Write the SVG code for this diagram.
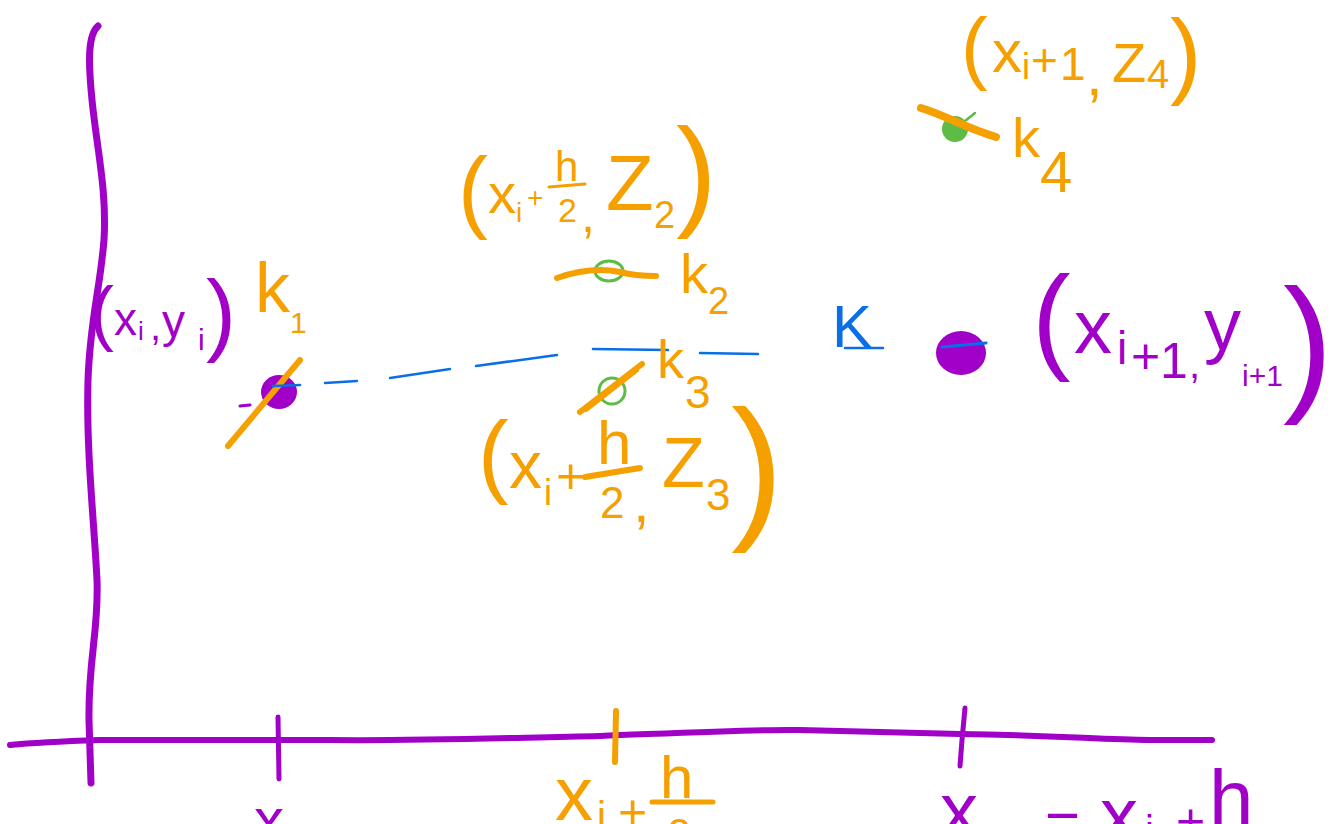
<svg xmlns="http://www.w3.org/2000/svg" width="1334" height="824" viewBox="0 0 1334 824">
<style>
.hw{font-family:"Liberation Sans",Arial,sans-serif;}
.pu{fill:#A000C8;}
.or{fill:#F6A000;}
.bl{fill:#0A6FE6;}
.spu{stroke:#A000C8;fill:none;stroke-linecap:round;stroke-linejoin:round;}
.sor{stroke:#F6A000;fill:none;stroke-linecap:round;stroke-linejoin:round;}
.sbl{stroke:#0A6FE6;fill:none;stroke-linecap:round;stroke-linejoin:round;}
.sgr{stroke:#5CBC45;fill:none;stroke-linecap:round;stroke-linejoin:round;}
</style>
<rect width="1334" height="824" fill="#FFFFFF"/>

<g id="axes">
  <path class="spu" stroke-width="7" d="M98,26 C88,35 88,60 92,100 C97,150 107,190 104,240 C100,290 90,320 88,380 C86,450 94,520 97,580 C99,630 88,660 89,720 L91,783"/>
  <path class="spu" stroke-width="6" d="M10,745 C40,742 70,741 100,740 L330,740 C420,741 500,738 600,736 C700,732 760,729 800,730 C850,731 900,733 960,734 C1060,735 1100,740 1150,740 L1212,740"/>
</g>

<g id="ticks">
  <path class="spu" stroke-width="5" d="M278,717 L279,779"/>
  <path class="sor" stroke-width="6" d="M616,711 L615,762"/>
  <path class="spu" stroke-width="5" d="M965,708 L962,740 L960,766"/>
</g>

<g id="connectors">
  <path class="sbl" stroke-width="2.5" d="M325,383 L357,381 M390,378 L450,369 M476,366 L557,355 M593,349 L668,350 M700,353 L758,354"/>
</g>

<g id="point-start">
  <ellipse cx="279" cy="392" rx="18" ry="17" fill="#A000C8"/>
  <path class="spu" stroke-width="3" d="M240,406 L250,405"/>
  <path class="sor" stroke-width="6" d="M228,446 L300,360"/>
  <path class="sbl" stroke-width="2.5" d="M273,386 L300,385"/>
</g>

<g id="label-start">
  <text class="hw pu"><tspan x="90" y="337" font-size="72">(</tspan><tspan x="114" y="335" font-size="46">x</tspan><tspan x="138" y="340" font-size="26">i</tspan><tspan x="150" y="340" font-size="40">,</tspan><tspan x="162" y="337" font-size="46">y</tspan><tspan x="198" y="350" font-size="30">i</tspan><tspan x="206" y="344" font-size="90">)</tspan></text>
</g>

<g id="label-k1">
  <text class="hw or"><tspan x="255" y="312" font-size="70">k</tspan><tspan x="290" y="333" font-size="30">1</tspan></text>
</g>

<g id="point-k2">
  <ellipse cx="609" cy="271" rx="14" ry="10" class="sgr" stroke-width="3"/>
  <path class="sor" stroke-width="6" d="M557,278 C580,270 600,268 620,272 C635,276 645,276 656,276"/>
</g>
<g id="label-k2">
  <text class="hw or"><tspan x="680" y="293" font-size="56">k</tspan><tspan x="708" y="314" font-size="38">2</tspan></text>
</g>
<g id="label-z2">
  <text class="hw or"><tspan x="458" y="221" font-size="90">(</tspan><tspan x="488" y="213" font-size="56">x</tspan><tspan x="516" y="222" font-size="28">i</tspan><tspan x="527" y="207" font-size="28">+</tspan><tspan x="555" y="181" font-size="42">h</tspan><tspan x="558" y="222" font-size="34">2</tspan><tspan x="581" y="232" font-size="50">,</tspan><tspan x="606" y="210" font-size="78">Z</tspan><tspan x="654" y="228" font-size="38">2</tspan><tspan x="676" y="214" font-size="122">)</tspan></text>
  <path class="sor" stroke-width="3" d="M549,187 L585,184"/>
</g>

<g id="point-k3">
  <circle cx="612" cy="391" r="13" class="sgr" stroke-width="3"/>
  <path class="sor" stroke-width="6" d="M580,412 L642,364 M586,409 L636,370"/>
</g>
<g id="label-k3">
  <text class="hw or"><tspan x="657" y="378" font-size="54">k</tspan><tspan x="685" y="408" font-size="46">3</tspan></text>
</g>
<g id="label-z3">
  <text class="hw or"><tspan x="478" y="486" font-size="92">(</tspan><tspan x="509" y="488" font-size="66">x</tspan><tspan x="544" y="505" font-size="36">i</tspan><tspan x="556" y="493" font-size="50">+</tspan><tspan x="597" y="464" font-size="62">h</tspan><tspan x="600" y="518" font-size="44">2</tspan><tspan x="633" y="522" font-size="60">,</tspan><tspan x="662" y="487" font-size="70">Z</tspan><tspan x="706" y="510" font-size="44">3</tspan><tspan x="731" y="520" font-size="157">)</tspan></text>
  <path class="sor" stroke-width="6" d="M585,477 L640,468"/>
</g>

<g id="point-k4">
  <circle cx="955" cy="129" r="13" fill="#5CBC45"/>
  <path class="sgr" stroke-width="2.5" d="M960,125 L975,113"/>
  <path class="sor" stroke-width="8" d="M921,108 C945,115 965,128 996,137"/>
</g>
<g id="label-k4">
  <text class="hw or"><tspan x="1012" y="157" font-size="56">k</tspan><tspan x="1040" y="192" font-size="58">4</tspan></text>
</g>
<g id="label-z4">
  <text class="hw or"><tspan x="961" y="74" font-size="80">(</tspan><tspan x="992" y="72" font-size="60">x</tspan><tspan x="1022" y="79" font-size="36">i</tspan><tspan x="1031" y="76" font-size="46">+</tspan><tspan x="1060" y="80" font-size="46">1</tspan><tspan x="1086" y="95" font-size="60">,</tspan><tspan x="1112" y="82" font-size="56">Z</tspan><tspan x="1147" y="88" font-size="40">4</tspan><tspan x="1170" y="86" font-size="94">)</tspan></text>
</g>

<g id="label-K">
  <text class="hw bl" x="832" y="347" font-size="60">K</text>
  <path class="sbl" stroke-width="2.5" d="M845,348 L883,348"/>
</g>

<g id="point-end">
  <ellipse cx="961" cy="353" rx="25" ry="22" fill="#A000C8"/>
  <path class="sbl" stroke-width="3" d="M942,347 L986,343"/>
</g>
<g id="label-end">
  <text class="hw pu"><tspan x="1032" y="358" font-size="116">(</tspan><tspan x="1074" y="353" font-size="76">x</tspan><tspan x="1117" y="364" font-size="46">i</tspan><tspan x="1131" y="373" font-size="50">+</tspan><tspan x="1160" y="378" font-size="50">1</tspan><tspan x="1189" y="378" font-size="40">,</tspan><tspan x="1204" y="350" font-size="74">y</tspan><tspan x="1242" y="386" font-size="30">i+1</tspan><tspan x="1283" y="394" font-size="150">)</tspan></text>
</g>

<g id="axis-labels">
  <text class="hw pu"><tspan x="254" y="840" font-size="60">x</tspan><tspan x="287" y="852" font-size="36">i</tspan></text>
  <text class="hw or"><tspan x="555" y="820" font-size="76">x</tspan><tspan x="597" y="830" font-size="40">i</tspan><tspan x="618" y="829" font-size="50">+</tspan><tspan x="660" y="798" font-size="60">h</tspan><tspan x="668" y="847" font-size="40">2</tspan></text>
  <path class="sor" stroke-width="5" d="M652,802 L713,802"/>
  <text class="hw pu"><tspan x="940" y="836" font-size="76">x</tspan><tspan x="980" y="856" font-size="40">i+1</tspan><tspan x="1045" y="843" font-size="60">=</tspan><tspan x="1100" y="841" font-size="76">x</tspan><tspan x="1145" y="844" font-size="40">i</tspan><tspan x="1176" y="838" font-size="50">+</tspan><tspan x="1209" y="826" font-size="80">h</tspan></text>
</g>
</svg>
